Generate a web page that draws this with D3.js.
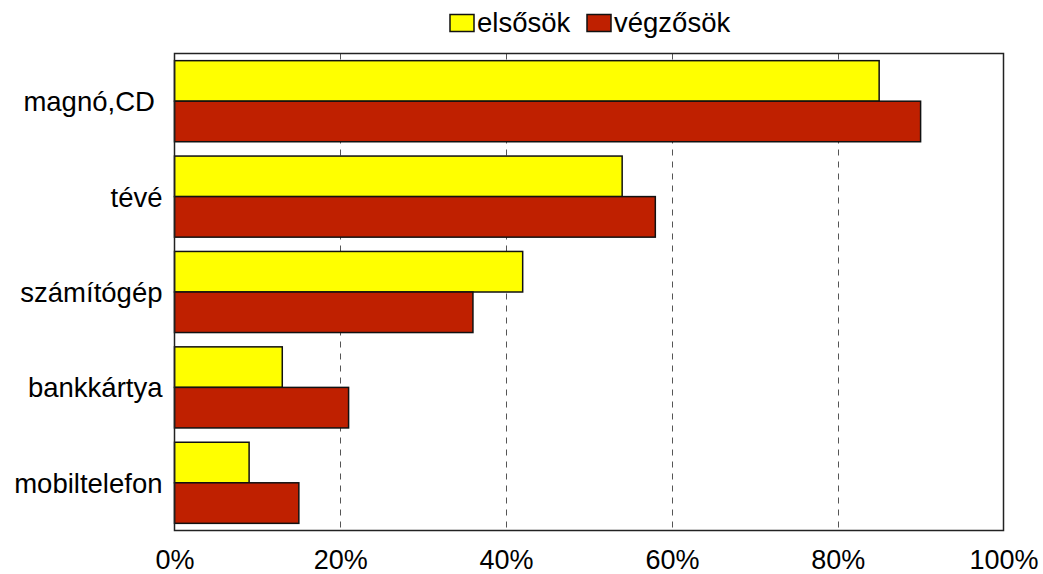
<!DOCTYPE html>
<html><head><meta charset="utf-8">
<script src="https://cdn.jsdelivr.net/npm/d3@7"></script>
<style>body{margin:0;background:#fff}svg{display:block;font-family:"Liberation Sans",Arial,sans-serif}</style>
</head><body><svg id="c" width="1043" height="574"></svg>
<script>
const categories = ["magnó,CD ","tévé","számítógép","bankkártya","mobiltelefon"];
const seriesNames = ["elsősök","végzősök"];
const elsosok = [85,54,42,13,9];
const vegzosok = [90,58,36,21,15];
const tickValues = [0,20,40,60,80,100];
const colors = ["#ffff00","#bf2000"];

const svg = d3.select("#c");
const L=174.5, R=1003.5, T=53.5, B=530.5;
const x = d3.scaleLinear().domain([0,100]).range([L,R]);
const y = d3.scaleBand().domain(categories).range([T,B]).paddingInner(0.15).paddingOuter(0.075);
const y1 = d3.scaleBand().domain(seriesNames).range([0,y.bandwidth()]);

svg.append("g").selectAll("line").data(tickValues.slice(1,-1)).join("line")
  .attr("x1",d=>Math.round(x(d))+0.5).attr("x2",d=>Math.round(x(d))+0.5)
  .attr("y1",T).attr("y2",B).attr("stroke","#555").attr("stroke-dasharray","6,6");

const data=[elsosok,vegzosok];
categories.forEach((c,i)=>{
  seriesNames.forEach((s,j)=>{
    svg.append("rect").attr("x",x(0)).attr("y",y(c)+y1(s))
      .attr("width",x(data[j][i])-x(0)).attr("height",y1.bandwidth())
      .attr("fill",colors[j]).attr("stroke","#111").attr("stroke-width",1.5);
  });
});

svg.append("rect").attr("x",L).attr("y",T).attr("width",R-L).attr("height",B-T)
  .attr("fill","none").attr("stroke","#222").attr("stroke-width",1.5);

const xa = d3.axisBottom(x).tickValues(tickValues).tickFormat(d=>d+"%").tickSize(0).tickPadding(0);
const gx = svg.append("g").attr("transform",`translate(0,${B})`).call(xa);
gx.select(".domain").remove();
gx.selectAll("text").attr("font-size",27).attr("fill","#000").attr("y",38).attr("dy",null).attr("font-family","Liberation Sans, Arial, sans-serif");

const ya = d3.axisLeft(y).tickSize(0).tickPadding(12);
const gy = svg.append("g").attr("transform",`translate(${L},0)`).call(ya);
gy.select(".domain").remove();
gy.selectAll("text").attr("font-size",27.5).attr("fill","#000").attr("dy","0.36em").style("white-space","pre").attr("font-family","Liberation Sans, Arial, sans-serif");

const leg = [{x:450,t:seriesNames[0],c:colors[0]},{x:587,t:seriesNames[1],c:colors[1]}];
leg.forEach(l=>{
  svg.append("rect").attr("x",l.x).attr("y",14.5).attr("width",24).attr("height",17).attr("fill",l.c).attr("stroke","#111").attr("stroke-width",1.5);
  svg.append("text").attr("x",l.x+27).attr("y",32).attr("font-size",27.5).text(l.t);
});
</script></body></html>
